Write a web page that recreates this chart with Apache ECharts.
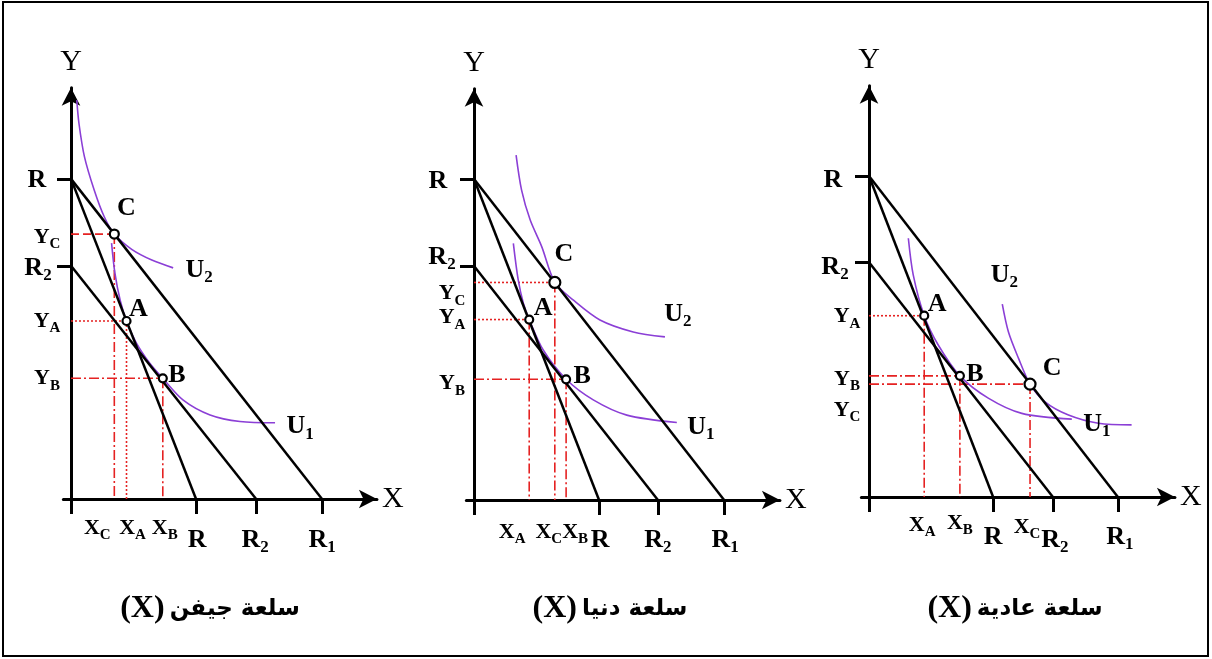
<!DOCTYPE html>
<html>
<head>
<meta charset="utf-8">
<script src="https://cdn.jsdelivr.net/npm/echarts@6/dist/echarts.min.js"></script>
<style>
  html, body { margin: 0; padding: 0; background: #fff; }
  #chart { width: 1212px; height: 659px; }
</style>
</head>
<body>
<div id="chart"></div>
<script>
// ---- data (axis units) ----
const panelTitles = ['سلعة جيفن', 'سلعة دنيا', 'سلعة عادية'];
const yTickNames = ['R', 'R2'];
const xTickNames = ['R', 'R2', 'R1'];
const pointNames = ['A', 'B', 'C'];
const yIntercepts = [[77.7, 56.6], [77.9, 56.8], [77.9, 57.0]];          // R, R2 on Y
const xIntercepts = [[41.0, 60.7, 82.3], [41.0, 60.3, 82.0], [40.7, 60.3, 81.6]]; // R, R2, R1 on X
const pointA = [[18.2, 43.2], [18.1, 43.8], [18.1, 44.0]];
const pointB = [[30.1, 29.3], [30.2, 29.3], [29.8, 29.4]];
const pointC = [[14.2, 64.3], [26.5, 52.8], [52.8, 27.4]];
const curveU1 = [
  [[13.3, 62.1], [14.4, 54.8], [16.1, 48.3], [18.2, 43.2], [21.5, 37.8], [25.9, 32.9], [30.1, 29.3], [36.8, 24.0], [45.6, 20.4], [55.4, 18.8], [66.9, 18.5]],
  [[12.9, 62.3], [14.5, 53.4], [16.2, 47.7], [18.1, 43.8], [22.7, 36.4], [30.2, 29.3], [39.1, 24.3], [50.1, 20.6], [66.5, 18.8]],
  [[12.9, 62.8], [14.5, 53.9], [18.1, 44.0], [22.7, 36.9], [29.8, 29.4], [39.1, 24.0], [50.1, 20.3], [66.5, 18.9]]
];
const curveU2 = [
  [[1.9, 96.8], [2.6, 91.2], [4.4, 83.1], [7.6, 75.0], [10.9, 68.5], [14.2, 64.3], [19.9, 60.6], [26.5, 58.0], [33.5, 56.1]],
  [[13.8, 83.7], [15.6, 75.2], [18.4, 68.0], [22.2, 61.5], [26.5, 52.8], [32.6, 48.5], [41.3, 43.7], [52.2, 40.8], [62.6, 39.6]],
  [[43.7, 46.8], [45.7, 40.1], [49.0, 33.7], [52.8, 27.4], [57.7, 23.1], [65.4, 19.9], [75.2, 17.9], [86.1, 17.5]]
];

// ---- layout / styles ----
const origins = [[71, 499], [474, 500], [869, 497]];
const PX_X = 3.05, PX_Y = 4.12;
const X_MIN = -2.5, X_MAX = 100.3, Y_MAX = 99.8;
const RED = '#e52222', PURPLE = '#8b3fd6';
const SERIF = '"Liberation Serif", "Times New Roman", serif';
const dashes = { dotted: [2, 2], dashed: [8, 4], dashdot: [10, 3, 2, 3] };
const projStyle = [
  { A: ['dotted', 'dotted'], B: ['dashdot', 'dashdot'], C: ['dashed', 'dashdot'] },
  { A: ['dotted', 'dashdot'], B: ['dashdot', 'dashdot'], C: ['dotted', 'dashdot'] },
  { A: ['dotted', 'dashdot'], B: ['dashdot', 'dashdot'], C: ['dashdot', 'dashdot'] }
];
const markerSize = [{ A: 8, B: 8, C: 9 }, { A: 8, B: 8, C: 11 }, { A: 8, B: 8, C: 11 }];
const shifts = [
  { yR: [-34, 1], yR2: [-33, 2], YC: [-24, 3], YA: [-24, 0], YB: [-24, 0],
    XC: [-17, 29], XA: [6, 29], XB: [2, 29], xR: [1, 41], xR2: [-1, 41], xR1: [0, 41],
    A: [12, -12], B: [14, -3], C: [12, -26], U1: [25, 4], U2: [26, 2] },
  { yR: [-36, 2], yR2: [-32, -9], YC: [-22, 11], YA: [-22, -2], YB: [-22, 4],
    XA: [-17, 32], XC: [-6, 32], XB: [9, 32], xR: [1, 40], xR2: [0, 40], xR1: [1, 40],
    A: [14, -11], B: [16, -3], C: [9, -28], U1: [24, 5], U2: [13, -23] },
  { yR: [-36, 4], yR2: [-34, 5], YC: [-22, 26], YA: [-22, 1], YB: [-22, 3],
    XA: [-2, 28], XB: [0, 26], XC: [-3, 30], xR: [0, 40], xR2: [2, 43], xR1: [2, 40],
    A: [13, -11], B: [15, -2], C: [22, -16], U1: [25, 5], U2: [2, -29] }
];

function subFmt(p) {
  const t = p.data.text;
  const big = p.data.big ? 'b' : 'm';
  return t.length > 1 ? '{' + big + '|' + t[0] + '}{' + big + 's|' + t.slice(1) + '}' : '{' + big + '|' + t + '}';
}
const richStyle = {
  m: { fontFamily: SERIF, fontWeight: 'bold', fontSize: 22, lineHeight: 30, color: '#000' },
  ms: { fontFamily: SERIF, fontWeight: 'bold', fontSize: 15, lineHeight: 30, verticalAlign: 'bottom', color: '#000' },
  b: { fontFamily: SERIF, fontWeight: 'bold', fontSize: 26, lineHeight: 32, color: '#000' },
  bs: { fontFamily: SERIF, fontWeight: 'bold', fontSize: 17, lineHeight: 32, verticalAlign: 'bottom', color: '#000' }
};

const grids = [], xAxes = [], yAxes = [], series = [], titles = [];

for (let i = 0; i < 3; i++) {
  const [ox, oy] = origins[i];
  grids.push({
    left: ox + X_MIN * PX_X, top: oy - Y_MAX * PX_Y,
    width: (X_MAX - X_MIN) * PX_X, height: Y_MAX * PX_Y
  });
  xAxes.push({
    gridIndex: i, type: 'value', min: X_MIN, max: X_MAX,
    axisLine: { onZero: false, symbol: ['none', 'arrow'], symbolSize: [14, 18], lineStyle: { color: '#000', width: 3 } },
    axisTick: { show: true, customValues: [0].concat(xIntercepts[i]), length: 15, lineStyle: { color: '#000', width: 3 } },
    axisLabel: { show: false }, splitLine: { show: false },
    name: 'X', nameLocation: 'end', nameGap: 5,
    nameTextStyle: { fontFamily: SERIF, fontSize: 30, color: '#000', verticalAlign: 'middle' }
  });
  yAxes.push({
    gridIndex: i, type: 'value', min: 0, max: Y_MAX,
    axisLine: { onZero: true, symbol: ['none', 'arrow'], symbolSize: [14, 18], lineStyle: { color: '#000', width: 3 } },
    axisTick: { show: true, customValues: yIntercepts[i], length: 14, lineStyle: { color: '#000', width: 3 } },
    axisLabel: { show: false }, splitLine: { show: false },
    name: 'Y', nameLocation: 'end', nameGap: 11,
    nameTextStyle: { fontFamily: SERIF, fontSize: 30, color: '#000' }
  });

  const ax = { xAxisIndex: i, yAxisIndex: i };
  const [yR, yR2] = yIntercepts[i];
  const [xR, xR2, xR1] = xIntercepts[i];
  const pts = { A: pointA[i], B: pointB[i], C: pointC[i] };

  // budget lines
  [[[0, yR], [xR, 0]], [[0, yR], [xR1, 0]], [[0, yR2], [xR2, 0]]].forEach(d => {
    series.push(Object.assign({
      type: 'line', data: d, symbol: 'none', silent: true, z: 3,
      lineStyle: { color: '#000', width: 2.5 }
    }, ax));
  });

  // indifference curves
  [curveU1[i], curveU2[i]].forEach(d => {
    series.push(Object.assign({
      type: 'line', data: d, symbol: 'none', smooth: 0.3, silent: true, z: 2,
      lineStyle: { color: PURPLE, width: 1.6 }
    }, ax));
  });

  // red projection lines
  pointNames.forEach(n => {
    const p = pts[n];
    const st = projStyle[i][n];
    series.push(Object.assign({
      type: 'line', data: [[0, p[1]], [p[0], p[1]]], symbol: 'none', silent: true, z: 1,
      lineStyle: { color: RED, width: 1.6, type: dashes[st[0]] }
    }, ax));
    series.push(Object.assign({
      type: 'line', data: [[p[0], p[1]], [p[0], 0]], symbol: 'none', silent: true, z: 1,
      lineStyle: { color: RED, width: 1.6, type: dashes[st[1]] }
    }, ax));
  });

  // equilibrium points
  series.push(Object.assign({
    type: 'scatter', z: 5, silent: true,
    data: pointNames.map(n => ({ value: pts[n], symbolSize: markerSize[i][n] })),
    itemStyle: { color: '#fff', borderColor: '#000', borderWidth: 2.2, opacity: 1 }
  }, ax));

  // text labels
  const sh = shifts[i];
  const lab = [];
  yTickNames.forEach((t, k) => lab.push({ key: 'y' + t, text: t, big: true, value: [0, yIntercepts[i][k]] }));
  xTickNames.forEach((t, k) => lab.push({ key: 'x' + t, text: t, big: true, value: [xIntercepts[i][k], 0] }));
  pointNames.forEach(n => {
    lab.push({ key: n, text: n, big: true, value: pts[n] });
    lab.push({ key: 'Y' + n, text: 'Y' + n, value: [0, pts[n][1]] });
    lab.push({ key: 'X' + n, text: 'X' + n, value: [pts[n][0], 0] });
  });
  const u1 = curveU1[i], u2 = curveU2[i];
  lab.push({ key: 'U1', text: 'U1', big: true, value: u1[u1.length - 1] });
  lab.push({ key: 'U2', text: 'U2', big: true, value: i === 2 ? u2[0] : u2[u2.length - 1] });

  series.push(Object.assign({
    type: 'scatter', z: 6, silent: true, clip: false, symbolSize: 0,
    itemStyle: { opacity: 1 },
    data: lab.map(l => ({
      value: l.value, text: l.text, big: l.big,
      label: { offset: sh[l.key] || [0, 0] }
    })),
    label: {
      show: true, position: 'inside', align: 'center', verticalAlign: 'middle',
      color: '#000', textBorderWidth: 0, opacity: 1,
      formatter: subFmt, rich: richStyle
    }
  }, ax));

  titles.push({
    left: ox + [134, 131, 141][i], top: 588, textAlign: 'center',
    text: '{x|(X)} {a|' + panelTitles[i] + '}',
    textStyle: {
      rich: {
        x: { fontFamily: SERIF, fontWeight: 'bold', fontSize: 32, color: '#000' },
        a: { fontFamily: '"DejaVu Sans", sans-serif', fontWeight: 'bold', fontSize: 23, color: '#000' }
      }
    }
  });
}

const chart = echarts.init(document.getElementById('chart'));
chart.setOption({
  animation: false,
  backgroundColor: '#fff',
  title: titles,
  grid: grids,
  xAxis: xAxes,
  yAxis: yAxes,
  series: series,
  graphic: [{
    type: 'rect', silent: true,
    shape: { x: 3, y: 2, width: 1205, height: 654 },
    style: { fill: 'none', stroke: '#000', lineWidth: 2 }
  }]
});
</script>
</body>
</html>
